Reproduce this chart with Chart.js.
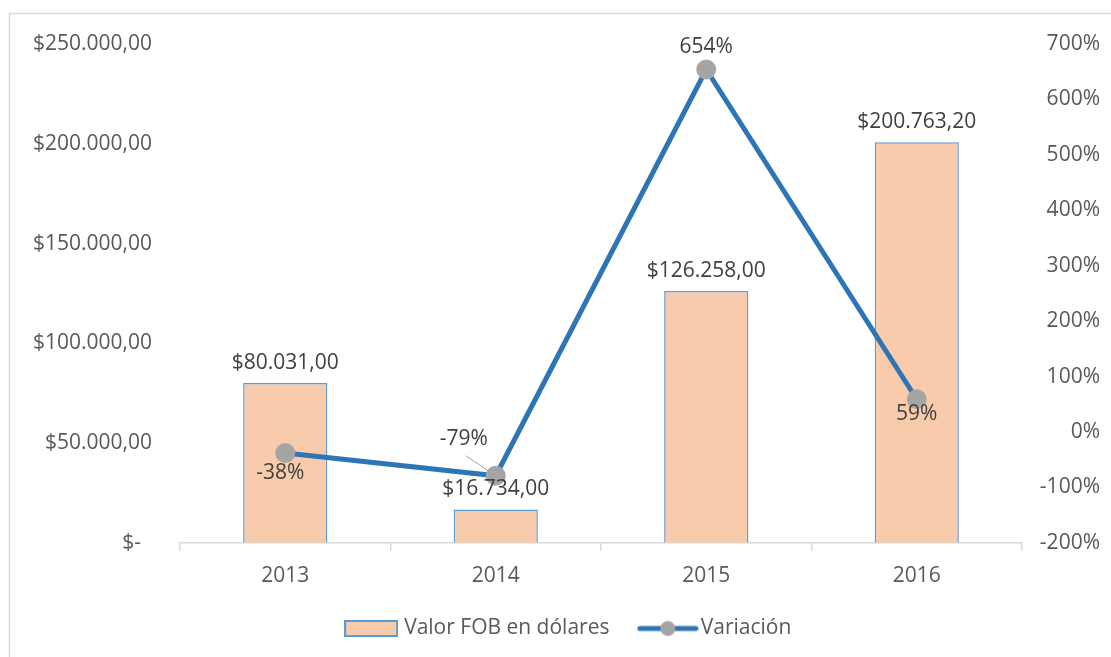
<!DOCTYPE html>
<html>
<head>
<meta charset="utf-8">
<script src="https://cdn.jsdelivr.net/npm/chart.js@4.4.0/dist/chart.umd.min.js"></script>
<style>
  html, body { margin: 0; padding: 0; background: #fff; }
  #wrap { position: absolute; left: 0; top: 0; width: 1111px; height: 657px; }
</style>
</head>
<body>
<div id="wrap"><canvas id="myChart" width="1111" height="657"></canvas></div>
<script>
// Chart data
const years = ['2013', '2014', '2015', '2016'];
const fobValues = [80031.00, 16734.00, 126258.00, 200763.20];
const variation = [-38, -79, 654, 59];

// label offsets for the line labels (dx, dy from the point)
const varLabelOffsets = [[-5, 20], [-32, -37], [0, -22], [0, 15]];

const textFont = '"Open Sans", sans-serif';
const fontSize = 21;

function money(n) {
    if (n === 0) return '$-  ';
    const parts = n.toFixed(2).split('.');
    const intPart = parts[0].replace(/\B(?=(\d{3})+(?!\d))/g, '.');
    return '$' + intPart + ',' + parts[1];
}

// legend swatches
function makeBarSwatch() {
    const c = document.createElement('canvas');
    c.width = 54; c.height = 17;
    const g = c.getContext('2d');
    g.fillStyle = '#F8CBAD';
    g.fillRect(1, 1, 52, 15);
    g.strokeStyle = '#5B9BD5';
    g.lineWidth = 2;
    g.strokeRect(1, 1, 52, 15);
    return c;
}
function makeLineSwatch() {
    const c = document.createElement('canvas');
    c.width = 62; c.height = 18;
    const g = c.getContext('2d');
    g.strokeStyle = '#2E75B6';
    g.lineWidth = 5;
    g.lineCap = 'round';
    g.beginPath(); g.moveTo(3, 9); g.lineTo(59, 9); g.stroke();
    g.fillStyle = '#A5A5A5';
    g.beginPath(); g.arc(31, 9, 7.5, 0, Math.PI * 2); g.fill();
    return c;
}
const swatches = [makeBarSwatch(), makeLineSwatch()];

// frame around the chart, and nudge the legend a bit right like the original
const framePlugin = {
    id: 'frame',
    afterLayout(chart) {
        if (chart.legend) chart.legend.left += 40;
    },
    beforeDraw(chart) {
        const ctx = chart.ctx;
        ctx.save();
        ctx.fillStyle = '#fff';
        ctx.fillRect(0, 0, chart.width, chart.height);
        ctx.strokeStyle = '#D9D9D9';
        ctx.lineWidth = 1.5;
        ctx.strokeRect(9.5, 13.5, chart.width + 20, chart.height + 20);
        ctx.restore();
    }
};

// value labels
const labelPlugin = {
    id: 'valueLabels',
    afterDatasetsDraw(chart) {
        const ctx = chart.ctx;
        ctx.save();
        ctx.font = fontSize + 'px ' + textFont;
        ctx.fillStyle = '#404040';
        ctx.textAlign = 'center';
        ctx.textBaseline = 'middle';

        const barMeta = chart.getDatasetMeta(0);
        barMeta.data.forEach((bar, i) => {
            ctx.fillText(money(fobValues[i]), bar.x, bar.y - 20);
        });

        const lineMeta = chart.getDatasetMeta(1);
        lineMeta.data.forEach((pt, i) => {
            const off = varLabelOffsets[i];
            const lx = pt.x + off[0];
            const ly = pt.y + off[1];
            if (i === 1) {
                ctx.strokeStyle = '#A5A5A5';
                ctx.lineWidth = 1;
                ctx.beginPath();
                ctx.moveTo(lx + 2, ly + 17);
                ctx.lineTo(pt.x - 6, pt.y - 4);
                ctx.stroke();
            }
            ctx.fillText(variation[i] + '%', lx, ly);
        });
        ctx.restore();
    }
};

const ctx = document.getElementById('myChart').getContext('2d');

new Chart(ctx, {
    data: {
        labels: years,
        datasets: [
            {
                type: 'bar',
                label: 'Valor FOB en dólares',
                data: fobValues,
                backgroundColor: '#F8CBAD',
                borderColor: '#5B9BD5',
                borderWidth: 1.5,
                barPercentage: 0.4,
                categoryPercentage: 1,
                yAxisID: 'y',
                order: 2
            },
            {
                type: 'line',
                label: 'Variación',
                data: variation,
                borderColor: '#2E75B6',
                borderWidth: 5,
                pointBackgroundColor: '#A5A5A5',
                pointBorderColor: '#A5A5A5',
                pointRadius: 7.5,
                pointHoverRadius: 7.5,
                tension: 0,
                yAxisID: 'y1',
                order: 1
            }
        ]
    },
    options: {
        responsive: false,
        animation: false,
        layout: { padding: { top: 44, left: 0, right: 11, bottom: 8 } },
        scales: {
            x: {
                offset: true,
                grid: {
                    offset: true,
                    drawOnChartArea: false,
                    drawTicks: true,
                    tickLength: 8,
                    color: '#D9D9D9',
                    lineWidth: 1.5
                },
                border: { color: '#D9D9D9', width: 1.5 },
                ticks: {
                    color: '#595959',
                    font: { family: textFont, size: fontSize },
                    padding: 13
                },
                afterFit(scale) { scale.height += 2; }
            },
            y: {
                position: 'left',
                min: 0,
                max: 250000,
                grid: { display: false, drawTicks: false },
                border: { display: false },
                ticks: {
                    stepSize: 50000,
                    color: '#595959',
                    font: { family: textFont, size: fontSize },
                    padding: 28,
                    callback: v => money(v)
                },
                afterFit(scale) { scale.width = 180; }
            },
            y1: {
                position: 'right',
                min: -200,
                max: 700,
                grid: { display: false, drawTicks: false },
                border: { display: false },
                ticks: {
                    stepSize: 100,
                    color: '#595959',
                    font: { family: textFont, size: fontSize },
                    padding: 11,
                    crossAlign: 'far',
                    callback: v => v + '%'
                },
                afterFit(scale) { scale.width = 78; }
            }
        },
        plugins: {
            tooltip: { enabled: false },
            legend: {
                position: 'bottom',
                labels: {
                    usePointStyle: true,
                    pointStyleWidth: 45,
                    color: '#595959',
                    font: { family: textFont, size: fontSize },
                    padding: 14,
                    generateLabels(chart) {
                        return chart.data.datasets.map((ds, i) => ({
                            // trailing spaces widen the gap between the two items
                            text: i === 0 ? ds.label + '    ' : ds.label,
                            pointStyle: swatches[i],
                            fillStyle: 'transparent',
                            strokeStyle: 'transparent',
                            lineWidth: 0,
                            hidden: false,
                            datasetIndex: i,
                            fontColor: '#595959'
                        }));
                    }
                }
            }
        }
    },
    plugins: [framePlugin, labelPlugin]
});
</script>
</body>
</html>
